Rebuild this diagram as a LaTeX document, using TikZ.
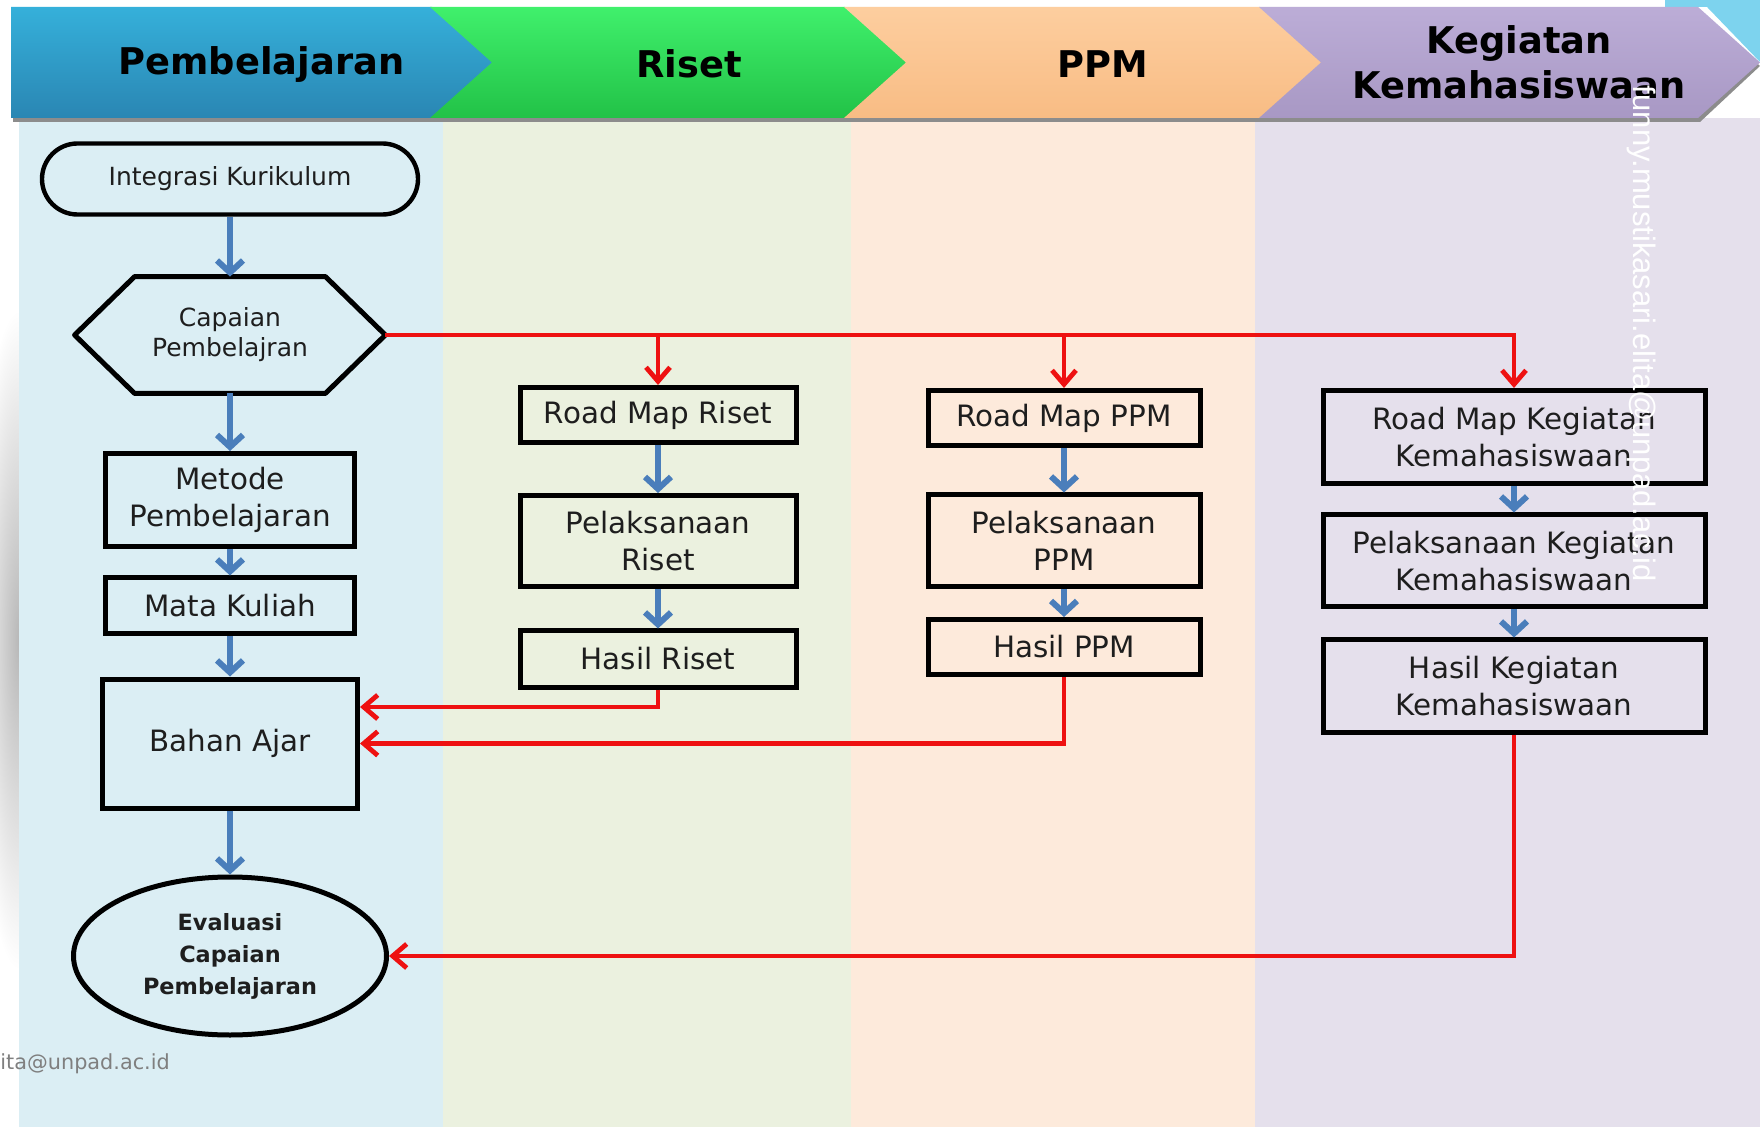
\documentclass[tikz,border=0pt]{standalone}
\usepackage{fontspec}
\setmainfont{DejaVu Sans}
\newfontfamily\markfont{Liberation Sans}
\usetikzlibrary{arrows.meta,shapes.geometric,shapes.misc,calc}

\definecolor{laneblue}{HTML}{DBEEF4}
\definecolor{lanegreen}{HTML}{EBF1DF}
\definecolor{laneorange}{HTML}{FDEADB}
\definecolor{lanepurple}{HTML}{E5E0EC}
\definecolor{headblueT}{HTML}{35B0DA}
\definecolor{headblueB}{HTML}{2A86B3}
\definecolor{headgreenT}{HTML}{40F06C}
\definecolor{headgreenB}{HTML}{22C247}
\definecolor{headorangeT}{HTML}{FDCE9F}
\definecolor{headorangeB}{HTML}{F8BC84}
\definecolor{headpurpleT}{HTML}{BCADD7}
\definecolor{headpurpleB}{HTML}{A898C4}
\definecolor{skyblue}{HTML}{7DD3EE}
\definecolor{flowblue}{HTML}{4A7EBB}
\definecolor{flowred}{HTML}{EE1111}
\definecolor{ink}{HTML}{1E1E1E}
\definecolor{markgray}{HTML}{7F7F7F}

\begin{document}
\begin{tikzpicture}[x=0.5pt,y=-0.5pt,
  box/.style={draw=black, line width=2.5pt, rectangle, inner sep=0pt,
    align=center, text=ink, font=\fontsize{14.7}{18.5}\selectfont},
  flow/.style={draw=flowblue, line width=3pt,
    -{Straight Barb[length=6pt,width=13pt]}},
  link/.style={draw=flowred, line width=2.4pt},
  linkarrow/.style={link, -{Straight Barb[length=7pt,width=12pt]}},
  head/.style={font=\fontsize{18.4}{22.5}\selectfont\bfseries, align=center, text=black},
  hshadow/.style={fill=black!45},
]
\useasboundingbox (0,0) rectangle (1760,1127);

% page and swim lanes
\fill[white] (0,0) rectangle (1760,1127);
\begin{scope}
  \clip (0,118) rectangle (19,1127);
  \shade[inner color=black!28, outer color=white] (19,640) ellipse (45 and 330);
\end{scope}
\fill[laneblue]   (19,118)   rectangle (443,1127);
\fill[lanegreen]  (443,118)  rectangle (851,1127);
\fill[laneorange] (851,118)  rectangle (1255,1127);
\fill[lanepurple] (1255,118) rectangle (1760,1127);
\fill[skyblue] (1665,0) -- (1760,0) -- (1760,62) -- (1707,7) -- (1665,7) -- cycle;

% header chevrons
\fill[hshadow] (13,11) -- (434,11) -- (496,66) -- (434,122) -- (13,122) -- cycle;
\fill[hshadow] (432,11) -- (847,11) -- (909,66) -- (847,122) -- (432,122) -- (494,66) -- cycle;
\fill[hshadow] (846,11) -- (1262,11) -- (1324,66) -- (1262,122) -- (846,122) -- (908,66) -- cycle;
\fill[hshadow] (1261,11) -- (1700,11) -- (1760,66) -- (1700,122) -- (1261,122) -- (1323,66) -- cycle;

\shade[top color=headblueT, bottom color=headblueB]
  (11,7) -- (432,7) -- (494,62.5) -- (432,118) -- (11,118) -- cycle;
\shade[top color=headgreenT, bottom color=headgreenB]
  (430,7) -- (845,7) -- (907,62.5) -- (845,118) -- (430,118) -- (492,62.5) -- cycle;
\shade[top color=headorangeT, bottom color=headorangeB]
  (844,7) -- (1260,7) -- (1322,62.5) -- (1260,118) -- (844,118) -- (906,62.5) -- cycle;
\shade[top color=headpurpleT, bottom color=headpurpleB]
  (1259,7) -- (1698,7) -- (1760,62.5) -- (1698,118) -- (1259,118) -- (1321,62.5) -- cycle;

\node[head] (h1) at (261.5,64) {Pembelajaran};
\node[head] (h2) at (689,64) {Riset};
\node[head] (h3) at (1103,64) {PPM};
\node[head] (h4) at (1519,62) {Kegiatan\\Kemahasiswaan};

% Pembelajaran column
\node[rounded rectangle, draw=black, line width=2.2pt, minimum width=188pt,
  minimum height=35.5pt, inner sep=0pt, text=ink,
  font=\fontsize{12.5}{15}\selectfont] (ik) at (230,179) {Integrasi Kurikulum};
\node[minimum width=155pt, minimum height=58pt, inner sep=0pt, align=center,
  text=ink, font=\fontsize{12.5}{15}\selectfont] (cp) at (230,335) {Capaian\\Pembelajran};
\draw[line width=2.5pt, line join=round]
  (cp.west) -- ($(cp.north west)+(60,0)$) -- ($(cp.north east)+(-60,0)$)
  -- (cp.east) -- ($(cp.south east)+(-60,0)$) -- ($(cp.south west)+(60,0)$) -- cycle;
\node[box, minimum width=124.5pt, minimum height=46.5pt] (mp) at (230,500) {Metode\\Pembelajaran};
\node[box, minimum width=124.5pt, minimum height=28pt] (mk) at (230,606) {Mata Kuliah};
\node[box, minimum width=127.5pt, minimum height=64.5pt] (ba) at (230,743.5) {Bahan Ajar};
\node[ellipse, draw=black, line width=2.5pt, minimum width=156.5pt, minimum height=79pt,
  inner sep=0pt, align=center, text=ink,
  font=\fontsize{11.2}{16}\selectfont\bfseries] (ev) at (230,956)
  {Evaluasi\\Capaian\\Pembelajaran};

% Riset column
\node[box, minimum width=138pt, minimum height=27.5pt] (rmr) at (658,415) {Road Map Riset};
\node[box, minimum width=138pt, minimum height=45.5pt] (pr) at (658,541) {Pelaksanaan\\Riset};
\node[box, minimum width=138pt, minimum height=28pt] (hr) at (658,659) {Hasil Riset};

% PPM column
\node[box, minimum width=136pt, minimum height=27.5pt] (rmp) at (1064,418) {Road Map PPM};
\node[box, minimum width=136pt, minimum height=46pt] (pp) at (1064,541) {Pelaksanaan\\PPM};
\node[box, minimum width=136pt, minimum height=27.5pt] (hp) at (1064,647) {Hasil PPM};

% Kegiatan Kemahasiswaan column
\node[box, minimum width=191pt, minimum height=46.5pt] (rmk) at (1514,437) {Road Map Kegiatan\\Kemahasiswaan};
\node[box, minimum width=191pt, minimum height=46pt] (pk) at (1514,561) {Pelaksanaan Kegiatan\\Kemahasiswaan};
\node[box, minimum width=191pt, minimum height=46pt] (hk) at (1514,686) {Hasil Kegiatan\\Kemahasiswaan};

% vertical flow inside each column
\draw[flow] (ik.south) -- (cp.north);
\draw[flow] (cp.south) -- (mp.north);
\draw[flow] (mp.south) -- (mk.north);
\draw[flow] (mk.south) -- (ba.north);
\draw[flow] (ba.south) -- (ev.north);
\draw[flow] (rmr.south) -- (pr.north);
\draw[flow] (pr.south) -- (hr.north);
\draw[flow] (rmp.south) -- (pp.north);
\draw[flow] (pp.south) -- (hp.north);
\draw[flow] (rmk.south) -- (pk.north);
\draw[flow] (pk.south) -- (hk.north);

% links between columns
\draw[linkarrow] (cp.east) -| (rmk.north);
\draw[linkarrow] (rmr.north |- cp.east) -- (rmr.north);
\draw[linkarrow] (rmp.north |- cp.east) -- (rmp.north);
\draw[linkarrow] (hr.south) |- ($(ba.east)+(0,-36.5)$);
\draw[linkarrow] (hp.south) |- (ba.east);
\draw[linkarrow] (hk.south) |- (ev.east);

% author marks
\node[rotate=-90, inner sep=0pt, text=white, font=\markfont\fontsize{15.5}{18}\selectfont]
  (mark1) at (1641,334) {funny.mustikasari.elita@unpad.ac.id};
\node[anchor=west, inner sep=0pt, text=markgray, font=\fontsize{10.4}{12}\selectfont]
  (mark2) at (0,1064) {ita@unpad.ac.id};
\end{tikzpicture}
\end{document}
